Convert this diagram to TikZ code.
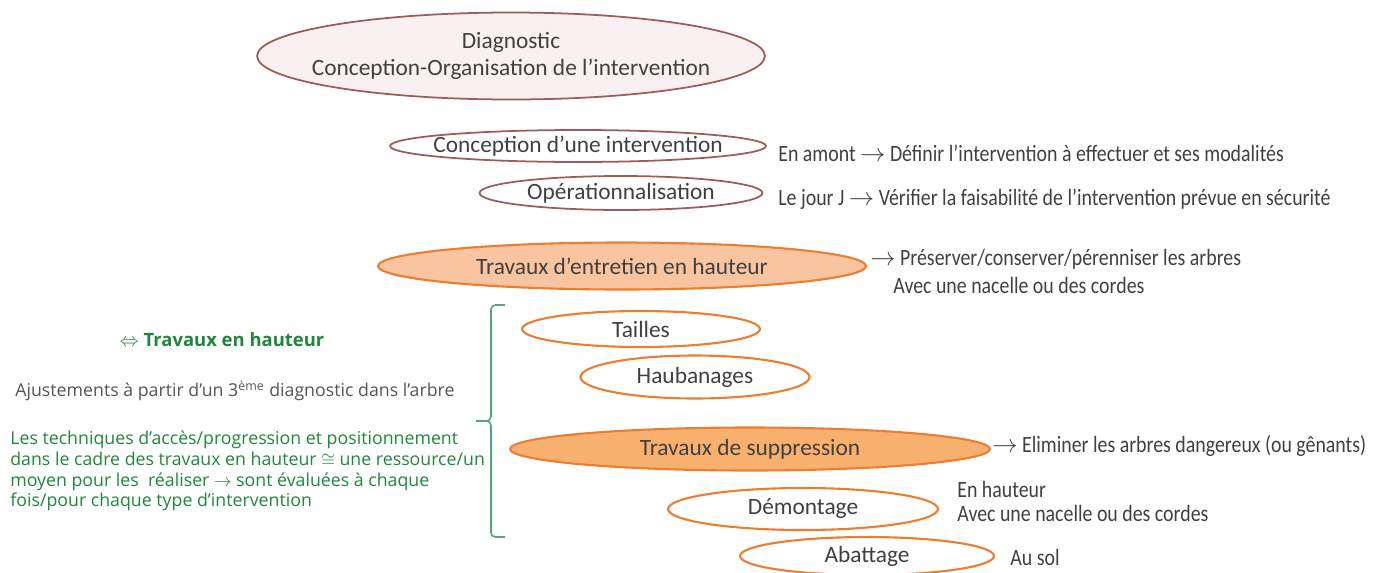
\documentclass[tikz,border=0pt]{standalone}
\usepackage{fontspec}
\setmainfont{Carlito}
\newfontfamily\condfont[FakeStretch=0.85]{Carlito}
\newfontfamily\notefont{Open Sans}
\usetikzlibrary{shapes.geometric,positioning}
\definecolor{diagline}{RGB}{160,90,90}
\definecolor{diagfill}{RGB}{249,241,241}
\definecolor{hautline}{RGB}{237,125,49}
\definecolor{entrfill}{RGB}{249,196,160}
\definecolor{suppfill}{RGB}{247,176,110}
\definecolor{inktext}{RGB}{64,64,64}
\definecolor{notegreen}{RGB}{30,135,60}
\definecolor{notegrey}{RGB}{85,85,85}
\definecolor{bracegreen}{RGB}{90,165,120}
% texte sans largeur : l'ellipse garde la taille voulue
\newcommand{\flatline}[1]{\makebox[0pt]{#1}}

\begin{document}
\begin{tikzpicture}[
    x=0.02cm, y=-0.02cm,
    oval/.style={ellipse, inner sep=0pt, text=inktext, align=center,
                 font=\fontsize{13.3}{15.2}\selectfont},
    diag/.style={oval, draw=diagline, line width=1pt, fill=white},
    haut/.style={oval, draw=hautline, line width=1.2pt, fill=white},
    lbl/.style={anchor=west, inner sep=0pt, text=inktext, align=left,
                font=\condfont\fontsize{13.3}{15}\selectfont},
    note/.style={anchor=west, inner sep=0pt, align=left,
                 font=\notefont\fontsize{10.1}{11.8}\selectfont}
]
\clip (0,0) rectangle (1375,572);

% phase diagnostic
\node[diag, fill=diagfill, minimum width=10.16cm, minimum height=1.74cm] (diag) at (511,56)
    {\flatline{Diagnostic}\\\flatline{Conception-Organisation de l’intervention}};
\node[diag, minimum width=7.52cm, minimum height=0.64cm] (concep) at (578,146) {\flatline{Conception d’une intervention}};
\node[diag, minimum width=5.66cm, minimum height=0.68cm] (oper) at (621,193) {\flatline{Opérationnalisation}};
\node[lbl] (concepnote) at (778,153) {En amont $\rightarrow$ Définir l’intervention à effectuer et ses modalités};
\node[lbl] (opernote) at (778,199) {Le jour J $\rightarrow$ Vérifier la faisabilité de l’intervention prévue en sécurité};

% travaux en hauteur
\node[haut, fill=entrfill, minimum width=9.76cm, minimum height=0.94cm] (entr) at (622,266) {\flatline{Travaux d’entretien en hauteur}};
\node[lbl] (entrnote) at (870,259) {$\rightarrow$ Préserver/conserver/pérenniser les arbres};
\node[lbl] (entrnote2) at (893,285) {Avec une nacelle ou des cordes};

\node[haut, minimum width=4.76cm, minimum height=0.72cm] (tailles) at (641,329) {\flatline{Tailles}};
\node[haut, minimum width=4.58cm, minimum height=0.86cm] (hauban) at (695,377) {\flatline{Haubanages}};

\node[haut, fill=suppfill, minimum width=9.6cm, minimum height=0.86cm] (supp) at (750,449) {\flatline{Travaux de suppression}};
\node[lbl] (suppnote) at (992,446) {$\rightarrow$ Eliminer les arbres dangereux (ou gênants)};

\node[haut, minimum width=5.4cm, minimum height=0.84cm] (demont) at (803,509) {\flatline{Démontage}};
\node[lbl] (demontnote) at (957,489) {En hauteur};
\node[lbl] (demontnote2) at (957,513) {Avec une nacelle ou des cordes};

\node[haut, minimum width=5.08cm, minimum height=0.76cm] (abat) at (867,556) {\flatline{Abattage}};
\node[lbl] (abatnote) at (1010,557) {Au sol};

% notes a gauche
\node[note, anchor=center, text=notegreen, font=\notefont\bfseries\fontsize{10.5}{12}\selectfont] (hauteur) at (222,340)
    {$\Leftrightarrow$ Travaux en hauteur};
\node[note, text=notegrey] (ajust) at (15,391) {Ajustements à partir d’un 3\textsuperscript{ème} diagnostic dans l’arbre};
\node[note, text=notegreen] (techn) at (10,471)
    {Les techniques d’accès/progression et positionnement\\
     dans le cadre des travaux en hauteur $\cong$ une ressource/un\\
     moyen pour les \ réaliser $\rightarrow$ sont évaluées à chaque\\
     fois/pour chaque type d’intervention};

% accolade
\coordinate (bracetop) at (505,305);
\coordinate (bracetip) at (476,421);
\coordinate (bracebot) at (505,537);
\draw[bracegreen, line width=0.9pt, rounded corners=2.5pt]
    (bracetop) -- (491,305) -- (491,421) -- (bracetip);
\draw[bracegreen, line width=0.9pt, rounded corners=2.5pt]
    (bracetip) -- (491,421) -- (491,537) -- (bracebot);
\end{tikzpicture}
\end{document}
